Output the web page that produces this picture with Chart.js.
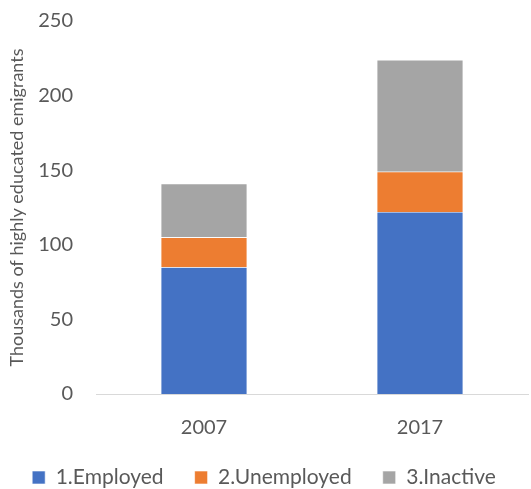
<!DOCTYPE html>
<html>
<head>
<meta charset="utf-8">
<script src="https://cdn.jsdelivr.net/npm/chart.js@4"></script>
<style>
html,body{margin:0;padding:0;background:#fff;}
#wrap{width:531px;height:489px;position:relative;}
</style>
</head>
<body>
<div id="wrap"><canvas id="c" width="531" height="489"></canvas></div>
<script>
const categories = ["2007", "2017"];
const employed = [85, 122];
const unemployed = [20, 27];
const inactive = [36, 75];
const seriesNames = ["1.Employed", "2.Unemployed", "3.Inactive"];
const yTicks = [0, 50, 100, 150, 200, 250];
const yTitle = "Thousands of highly educated emigrants";

const FONT = "Lato, 'Open Sans', sans-serif";
const TXT = "#595959";

new Chart(document.getElementById("c"), {
  type: "bar",
  data: {
    labels: categories,
    datasets: [
      {label: seriesNames[0], data: employed, backgroundColor: "#4472C4", borderColor: "#ffffff", borderWidth: 0.6},
      {label: seriesNames[1], data: unemployed, backgroundColor: "#ED7D31", borderColor: "#ffffff", borderWidth: 0.6},
      {label: seriesNames[2], data: inactive, backgroundColor: "#A5A5A5", borderColor: "#ffffff", borderWidth: 0.6}
    ]
  },
  options: {
    responsive: false,
    animation: false,
    devicePixelRatio: 1,
    layout: {padding: {top: 21, right: 3, left: 0, bottom: -9}},
    datasets: {bar: {barPercentage: 0.4, categoryPercentage: 1.0}},
    plugins: {
      tooltip: {enabled: false},
      legend: {
        position: "bottom",
        labels: {
          font: {family: FONT, size: 21},
          color: TXT,
          boxWidth: 13,
          boxHeight: 13,
          padding: 31,
          useBorderRadius: false
        }
      }
    },
    scales: {
      x: {
        stacked: true,
        grid: {display: false, drawTicks: false},
        border: {display: true, color: "#D9D9D9", width: 1},
        ticks: {font: {family: FONT, size: 20}, color: TXT, padding: 22},
        afterFit: s => { s.height = 42; }
      },
      y: {
        stacked: true,
        min: 0,
        max: 250,
        afterBuildTicks: s => { s.ticks = yTicks.map(v => ({value: v})); },
        grid: {display: false, drawTicks: false},
        border: {display: false},
        ticks: {font: {family: FONT, size: 20}, color: TXT, padding: 23},
        title: {display: true, text: yTitle, font: {family: FONT, size: 18}, color: TXT, padding: {top: 6, bottom: 4}},
        afterFit: s => { s.width = 96; s.paddingTop = 0; s.paddingBottom = 0; }
      }
    }
  }
});
</script>
</body>
</html>
